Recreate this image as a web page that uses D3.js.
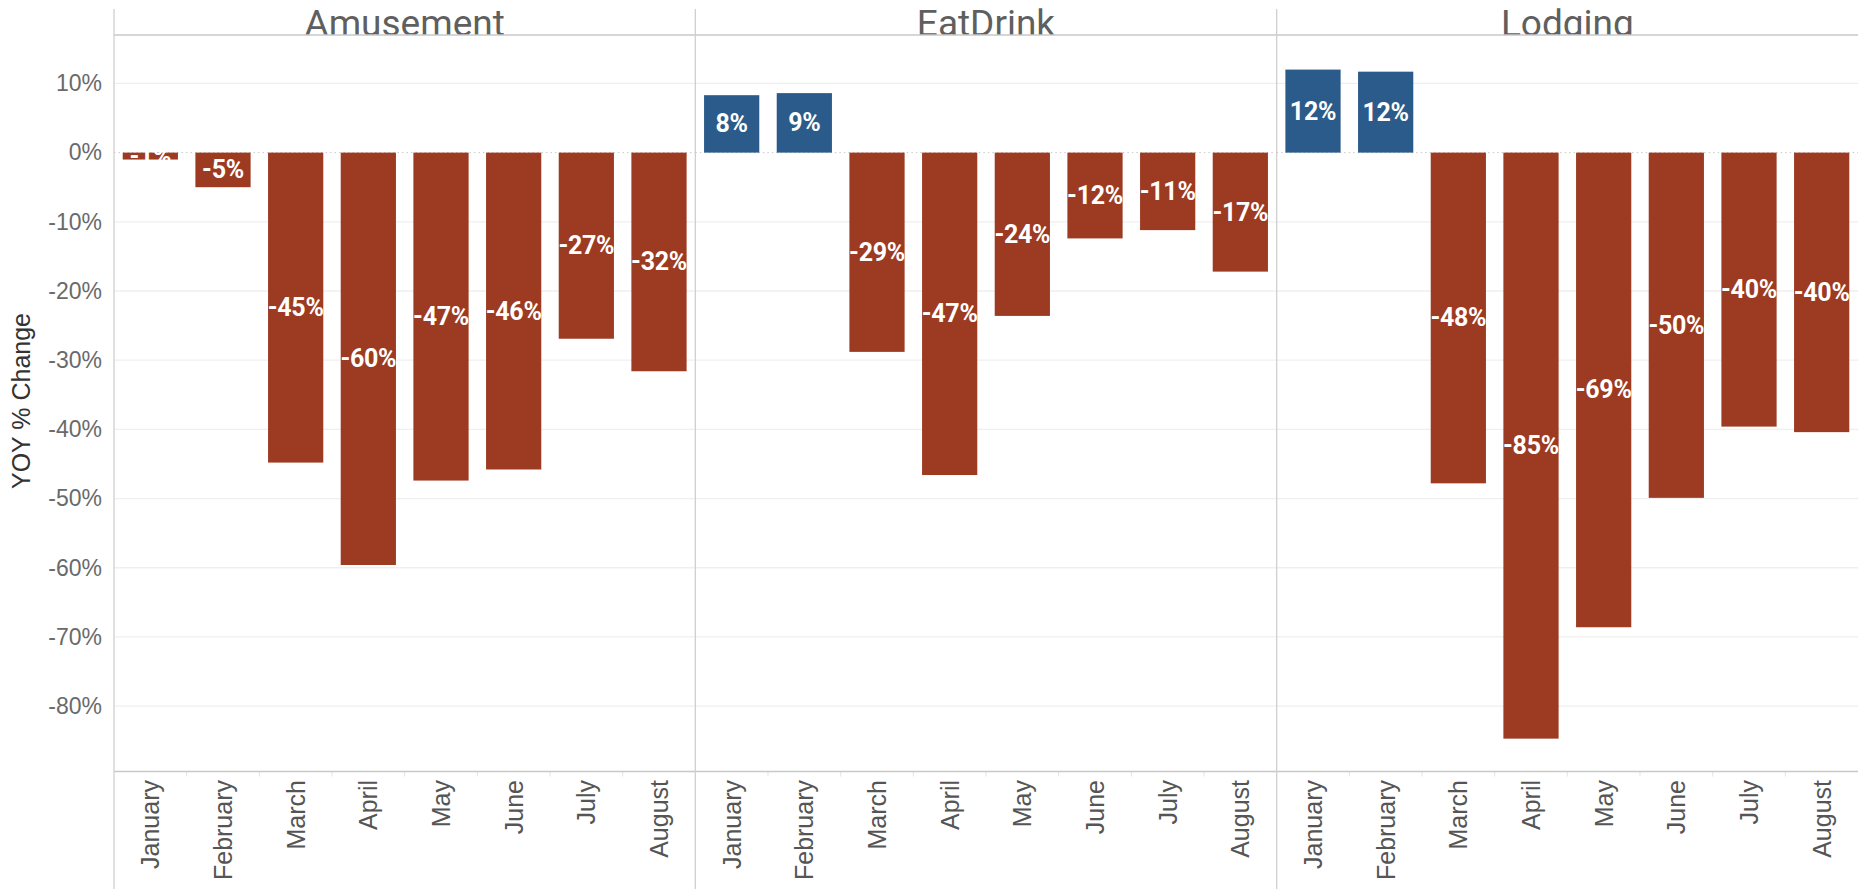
<!DOCTYPE html>
<html>
<head>
<meta charset="utf-8">
<script src="https://cdn.jsdelivr.net/npm/d3@7"></script>
<style>
  body { margin: 0; background: #fff; }
  svg { display: block; }
</style>
</head>
<body>
<svg id="chart" width="1858" height="889"></svg>
<script>
// categories (panels) and months
const categories = ["Amusement", "EatDrink", "Lodging"];
const months = ["January", "February", "March", "April", "May", "June", "July", "August"];

// YOY % change per category
const amusement = [-1.0, -5.0, -44.8, -59.6, -47.4, -45.8, -26.9, -31.6];
const eatDrink = [8.3, 8.6, -28.8, -46.6, -23.6, -12.4, -11.2, -17.2];
const lodging = [12.0, 11.7, -47.8, -84.7, -68.6, -49.9, -39.6, -40.4];

const yTicks = [10, 0, -10, -20, -30, -40, -50, -60, -70, -80];

const seriesByCategory = [amusement, eatDrink, lodging];

const W = 1858, H = 889;
const plotLeft = 114, plotRight = W, plotTop = 35, plotBottom = 771.5;
const panelW = (plotRight - plotLeft) / categories.length;

const svg = d3.select("#chart");

const y = d3.scaleLinear().domain([-89.45, 17.0]).range([plotBottom, plotTop]);
const x = d3.scaleBand().domain(months).range([0, panelW]).paddingInner(0.24).paddingOuter(0.12);
const panelX = d3.scaleBand().domain(categories).range([plotLeft, plotRight]);

const fmt = v => Math.round(v) + "%";

// gridlines
const grid = svg.append("g");
grid.selectAll("line")
  .data(yTicks.filter(d => d !== 0))
  .join("line")
  .attr("x1", plotLeft).attr("x2", plotRight)
  .attr("y1", d => y(d)).attr("y2", d => y(d))
  .attr("stroke", "#efefef").attr("stroke-width", 1.3);

// y axis labels
const yAxis = svg.append("g")
  .attr("transform", `translate(${plotLeft},0)`)
  .call(d3.axisLeft(y).tickValues(yTicks).tickSize(0).tickPadding(12).tickFormat(d => d + "%"));
yAxis.select(".domain").remove();
yAxis.selectAll("text")
  .attr("font-family", "'Liberation Sans', Arial, sans-serif")
  .attr("font-size", 23)
  .attr("fill", "#6a6a6a");

svg.append("text")
  .attr("transform", `translate(30,401) rotate(-90)`)
  .attr("text-anchor", "middle")
  .attr("font-family", "'Liberation Sans', Arial, sans-serif")
  .attr("font-size", 25)
  .attr("fill", "#333")
  .text("YOY % Change");

// panels
categories.forEach((cat, ci) => {
  const values = seriesByCategory[ci];
  const px = panelX(cat);
  const g = svg.append("g").attr("transform", `translate(${px},0)`);

  // header, clipped at header line
  const clipId = "hclip" + ci;
  svg.append("clipPath").attr("id", clipId)
    .append("rect").attr("x", 0).attr("y", 0).attr("width", panelW).attr("height", plotTop);
  g.append("text")
    .attr("clip-path", `url(#${clipId})`)
    .attr("x", panelW / 2)
    .attr("y", plotTop + 1)
    .attr("text-anchor", "middle")
    .attr("font-family", "Roboto, sans-serif")
    .attr("font-size", 37)
    .attr("fill", "#5f5f5f")
    .text(cat);

  // zero line (dotted)
  g.append("line")
    .attr("x1", 0).attr("x2", panelW)
    .attr("y1", y(0)).attr("y2", y(0))
    .attr("stroke", "#c8c8c8").attr("stroke-width", 1)
    .attr("stroke-dasharray", "1.5,3");

  const data = months.map((m, i) => ({month: m, value: values[i]}));

  g.selectAll("rect.bar")
    .data(data)
    .join("rect")
    .attr("class", "bar")
    .attr("x", d => x(d.month))
    .attr("width", x.bandwidth())
    .attr("y", d => y(Math.max(0, d.value)))
    .attr("height", d => Math.abs(y(d.value) - y(0)))
    .attr("fill", d => d.value >= 0 ? "#2b5b8a" : "#9c3a22");

  g.selectAll("text.val")
    .data(data)
    .join("text")
    .attr("class", "val")
    .attr("x", d => x(d.month) + x.bandwidth() / 2)
    .attr("y", d => (y(d.value) + y(0)) / 2)
    .attr("text-anchor", "middle")
    .attr("dominant-baseline", "central")
    .attr("font-family", "Roboto, sans-serif")
    .attr("font-weight", 700)
    .attr("font-size", 25)
    .attr("letter-spacing", -0.3)
    .attr("fill", "#fff")
    .text(d => fmt(d.value));

  // month axis
  const xAxis = g.append("g")
    .attr("transform", `translate(0,${plotBottom})`)
    .call(d3.axisBottom(x).tickSize(0));
  xAxis.select(".domain").remove();
  xAxis.selectAll("text")
    .attr("transform", "rotate(-90)")
    .attr("x", -8.5)
    .attr("y", 0)
    .attr("dy", "0.36em")
    .attr("text-anchor", "end")
    .attr("font-family", "'Liberation Sans', Arial, sans-serif")
    .attr("font-size", 25)
    .attr("fill", "#555");

  // small dividers between months below the axis
  g.selectAll("line.div")
    .data(months.slice(1))
    .join("line")
    .attr("class", "div")
    .attr("x1", d => x(d) - x.step() * x.paddingInner() / 2)
    .attr("x2", d => x(d) - x.step() * x.paddingInner() / 2)
    .attr("y1", plotBottom).attr("y2", plotBottom + 5)
    .attr("stroke", "#e4e4e4");
});

// frame lines
svg.append("line")
  .attr("x1", plotLeft).attr("x2", plotRight).attr("y1", plotTop).attr("y2", plotTop)
  .attr("stroke", "#c8c8c8").attr("stroke-width", 1.3);
svg.append("line")
  .attr("x1", plotLeft).attr("x2", plotRight).attr("y1", plotBottom).attr("y2", plotBottom)
  .attr("stroke", "#c8c8c8").attr("stroke-width", 1.3);
svg.selectAll("line.sep")
  .data(categories)
  .join("line")
  .attr("class", "sep")
  .attr("x1", d => panelX(d)).attr("x2", d => panelX(d))
  .attr("y1", 9).attr("y2", H)
  .attr("stroke", "#d0d0d0").attr("stroke-width", 1.3);
</script>
</body>
</html>
